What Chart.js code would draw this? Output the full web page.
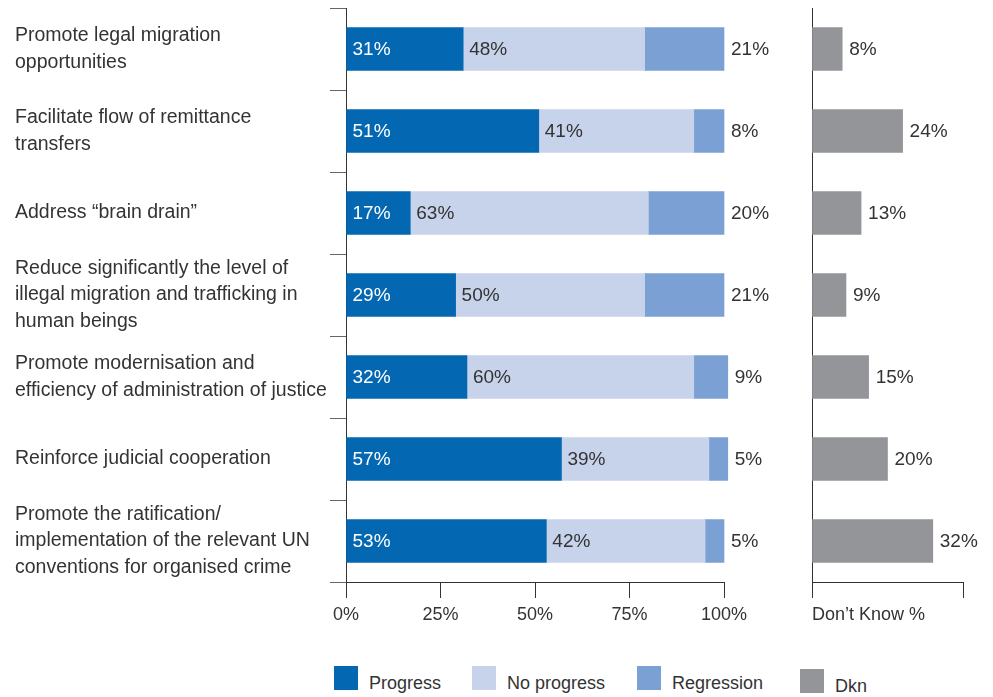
<!DOCTYPE html>
<html>
<head>
<meta charset="utf-8">
<script src="https://cdn.jsdelivr.net/npm/chart.js@4.4.1/dist/chart.umd.min.js"></script>
<style>
  body { margin: 0; background: #fff; }
  #wrap { position: relative; width: 993px; height: 697px; font-family: 'Liberation Sans', Arial, sans-serif; color: #333; }
  #mainChart { position: absolute; left: 0; top: 0; }
  #dknChart { position: absolute; left: 790px; top: 0; }
  .key { position: absolute; font-size: 18px; line-height: 24px; }
  .key span { position: absolute; left: 0; top: 0; width: 24px; height: 24px; }
  .key b { font-weight: normal; position: absolute; left: 35px; top: 5px; white-space: nowrap; }
</style>
</head>
<body>
<div id="wrap">
  <canvas id="mainChart" width="790" height="640"></canvas>
  <canvas id="dknChart" width="203" height="640"></canvas>
  <div id="legend"></div>
</div>
<script>
// Survey rows
const categories = [
  ['Promote legal migration', 'opportunities'],
  ['Facilitate flow of remittance', 'transfers'],
  'Address \u201cbrain drain\u201d',
  ['Reduce significantly the level of', 'illegal migration and trafficking in', 'human beings'],
  ['Promote modernisation and', 'efficiency of administration of justice'],
  'Reinforce judicial cooperation',
  ['Promote the ratification/', 'implementation of the relevant UN', 'conventions for organised crime'],
];
const progress = [31, 51, 17, 29, 32, 57, 53];
const noProgress = [48, 41, 63, 50, 60, 39, 42];
const regression = [21, 8, 20, 21, 9, 5, 5];
const dontKnow = [8, 24, 13, 9, 15, 20, 32];
const pctTicks = [0, 25, 50, 75, 100];
const dknTicks = [0, 40];

const colors = {
  progress: '#0467b1',
  noProgress: '#c7d3ea',
  regression: '#7ba0d4',
  dkn: '#949599',
};
const textColor = '#333';
const fontFamily = "'Liberation Sans', Arial, sans-serif";

// draws "nn%" next to / inside each bar
const valueLabels = {
  id: 'valueLabels',
  afterDatasetsDraw(chart) {
    const ctx = chart.ctx;
    ctx.save();
    ctx.font = '19px ' + fontFamily;
    ctx.textBaseline = 'middle';
    ctx.textAlign = 'left';
    chart.data.datasets.forEach((ds, i) => {
      const meta = chart.getDatasetMeta(i);
      meta.data.forEach((bar, j) => {
        const txt = ds.data[j] + '%';
        ctx.fillStyle = ds.labelColor;
        const x = ds.labelPos === 'inside' ? Math.min(bar.base, bar.x) + 6 : Math.max(bar.base, bar.x) + 7;
        ctx.fillText(txt, x, bar.y + 1);
      });
    });
    ctx.restore();
  },
};

const makeDataset = (label, data, color, labelPos, labelColor) => ({
  label: label,
  data: data,
  backgroundColor: color,
  borderWidth: 0,
  barThickness: 43,
  clip: false,
  labelPos: labelPos,
  labelColor: labelColor,
});

// keep the plot edges where the layout padding puts them
const noEdgePadding = (scale) => {
  scale.paddingTop = 0;
  scale.paddingBottom = 0;
  scale.paddingLeft = 0;
  scale.paddingRight = 0;
};

new Chart(document.getElementById('mainChart'), {
  type: 'bar',
  data: {
    labels: categories,
    datasets: [
      makeDataset('Progress', progress, colors.progress, 'inside', '#fff'),
      makeDataset('No progress', noProgress, colors.noProgress, 'inside', textColor),
      makeDataset('Regression', regression, colors.regression, 'outside', textColor),
    ],
  },
  options: {
    indexAxis: 'y',
    responsive: false,
    animation: false,
    layout: { padding: { top: 8, left: 15, right: 66, bottom: 0 } },
    plugins: { legend: { display: false }, tooltip: { enabled: false } },
    scales: {
      x: {
        stacked: true,
        min: 0,
        max: 100,
        afterBuildTicks: (scale) => { scale.ticks = pctTicks.map((v) => ({ value: v })); },
        afterFit: (scale) => { scale.height = 58; noEdgePadding(scale); },
        ticks: {
          autoSkip: false,
          callback: (v) => v + '%',
          color: textColor,
          padding: 6,
          maxRotation: 0,
          font: { family: fontFamily, size: 18 },
        },
        grid: { drawOnChartArea: false, tickLength: 16, color: '#333' },
        border: { color: '#333' },
      },
      y: {
        stacked: true,
        afterFit: (scale) => { scale.width = 331; noEdgePadding(scale); },
        ticks: {
          autoSkip: false,
          crossAlign: 'far',
          color: textColor,
          font: { family: fontFamily, size: 19.5, lineHeight: 1.35 },
        },
        grid: { drawOnChartArea: false, tickLength: 16, color: '#666' },
        border: { color: '#333' },
      },
    },
  },
  plugins: [valueLabels],
});

new Chart(document.getElementById('dknChart'), {
  type: 'bar',
  data: {
    labels: categories,
    datasets: [makeDataset('Dkn', dontKnow, colors.dkn, 'outside', textColor)],
  },
  options: {
    indexAxis: 'y',
    responsive: false,
    animation: false,
    layout: { padding: { top: 8, left: 22, right: 30, bottom: 0 } },
    plugins: { legend: { display: false }, tooltip: { enabled: false } },
    scales: {
      x: {
        min: 0,
        max: 40,
        afterBuildTicks: (scale) => { scale.ticks = dknTicks.map((v) => ({ value: v })); },
        afterFit: (scale) => { scale.height = 58; noEdgePadding(scale); },
        ticks: {
          autoSkip: false,
          callback: (v) => (v === 0 ? 'Don\u2019t Know %' : ''),
          align: 'start',
          maxRotation: 0,
          minRotation: 0,
          color: textColor,
          padding: 6,
          font: { family: fontFamily, size: 18 },
        },
        grid: { drawOnChartArea: false, tickLength: 16, color: '#333' },
        border: { color: '#333' },
      },
      y: {
        afterFit: (scale) => { scale.width = 0; noEdgePadding(scale); },
        ticks: { display: false },
        grid: { drawOnChartArea: false, drawTicks: false },
        border: { color: '#333' },
      },
    },
  },
  plugins: [valueLabels],
});

// legend along the bottom
const legendItems = [
  { name: 'Progress', color: colors.progress, x: 334, y: 666 },
  { name: 'No progress', color: colors.noProgress, x: 472, y: 666 },
  { name: 'Regression', color: colors.regression, x: 637, y: 666 },
  { name: 'Dkn', color: colors.dkn, x: 800, y: 669 },
];
const legend = document.getElementById('legend');
legendItems.forEach((item) => {
  const el = document.createElement('div');
  el.className = 'key';
  el.style.left = item.x + 'px';
  el.style.top = item.y + 'px';
  const sw = document.createElement('span');
  sw.style.background = item.color;
  const txt = document.createElement('b');
  txt.textContent = item.name;
  el.appendChild(sw);
  el.appendChild(txt);
  legend.appendChild(el);
});
</script>
</body>
</html>
